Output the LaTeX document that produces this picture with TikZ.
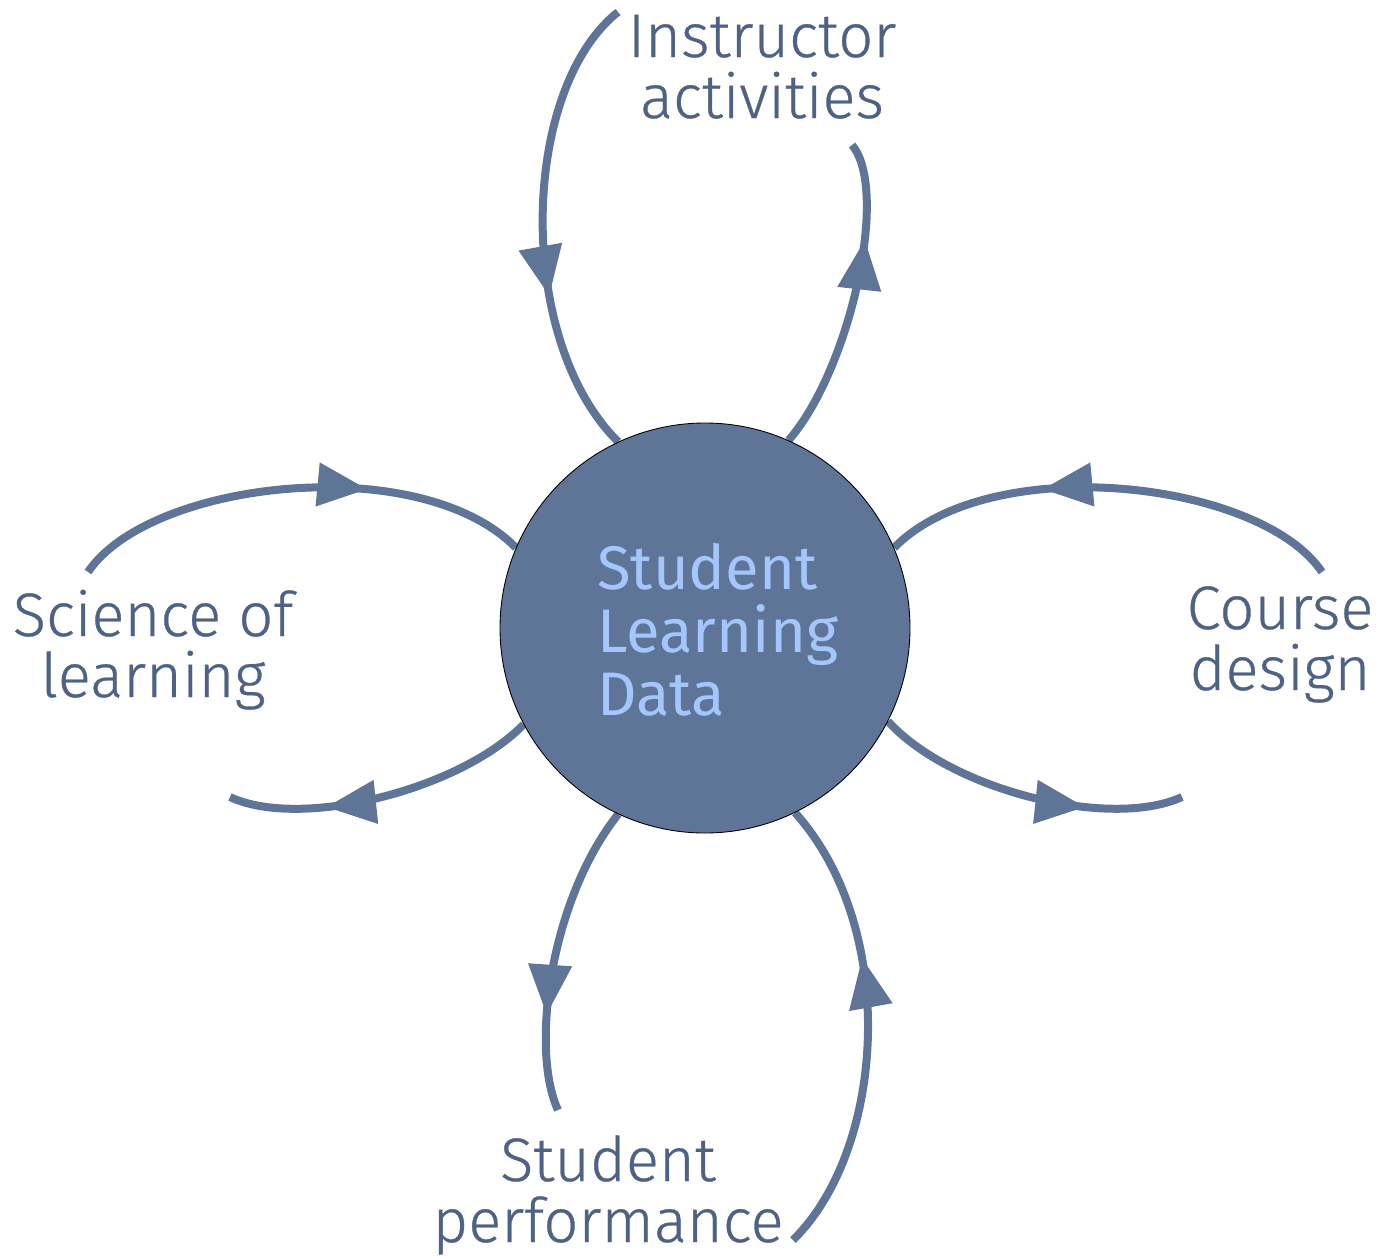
\documentclass[tikz,border=0pt]{standalone}
\usepackage{fontspec}
\setmainfont{Fira Sans}
\newfontfamily\lightsans{Fira Sans}[UprightFont=* Light, UprightFeatures={FakeBold=0.5}]
\usepackage{tikz}
\usetikzlibrary{arrows.meta,decorations.markings,backgrounds}

\definecolor{flowblue}{HTML}{5F7598}
\definecolor{labelblue}{HTML}{4E6285}
\definecolor{hubfill}{HTML}{5F7598}
\definecolor{hubtext}{HTML}{A3C6FC}

\begin{document}
\begin{tikzpicture}[
    x=0.2mm, y=-0.2mm,
    lbl/.style={align=center, inner sep=0pt, anchor=base, text=labelblue, font=\lightsans\fontsize{35pt}{34.7pt}\selectfont},
    hub/.style={circle, draw=black, line width=0.5pt, fill=hubfill, minimum size=82mm, inner sep=0pt},
    hubtxt/.style={align=left, inner sep=0pt, anchor=base west, text=hubtext, font=\fontsize{35pt}{35.7pt}\selectfont},
    flow/.style={draw=flowblue, line width=1.6mm, postaction={decorate},
      decoration={markings, mark=at position #1 with {\arrow[flowblue]{Triangle[length=10mm,width=8.4mm]}}}},
    flow/.default=0.65]
  \useasboundingbox (0,0) rectangle (1383,1257);
  \node[hub] (sld) at (705,628) {};
  \node[hubtxt] (sldtxt) at (597,715) {Student\\Learning\\Data};
  \node[lbl] (ins) at (762,118) {Instructor\\activities};
  \node[lbl] (sci) at (153,697) {Science of\\learning};
  \node[lbl] (crs) at (1280,690) {Course\\design};
  \node[lbl] (stp) at (608,1242) {Student\\performance};
  \coordinate (insA) at (618,12);
  \coordinate (insB) at (852,145);
  \coordinate (sciA) at (88,572);
  \coordinate (sciB) at (230,797);
  \coordinate (crsA) at (1322,572);
  \coordinate (crsB) at (1182,797);
  \coordinate (stpA) at (558,1110);
  \coordinate (stpB) at (793,1240);
  \begin{scope}[on background layer]
    \draw[flow] (insA) .. controls (520,90) and (515,340) .. (sld.115);
    \draw[flow=0.69] (sld.66) .. controls (850,370) and (890,190) .. (insB);
    \draw[flow] (sciA) .. controls (150,480) and (420,450) .. (sld.157);
    \draw[flow=0.69] (sld.208) .. controls (460,790) and (300,830) .. (sciB);
    \draw[flow] (crsA) .. controls (1260,480) and (990,450) .. (sld.23);
    \draw[flow=0.69] (sld.-27) .. controls (950,790) and (1110,830) .. (crsB);
    \draw[flow=0.69] (sld.245) .. controls (550,900) and (530,1050) .. (stpA);
    \draw[flow] (stpB) .. controls (885,1150) and (900,930) .. (sld.296);
  \end{scope}
\end{tikzpicture}
\end{document}
